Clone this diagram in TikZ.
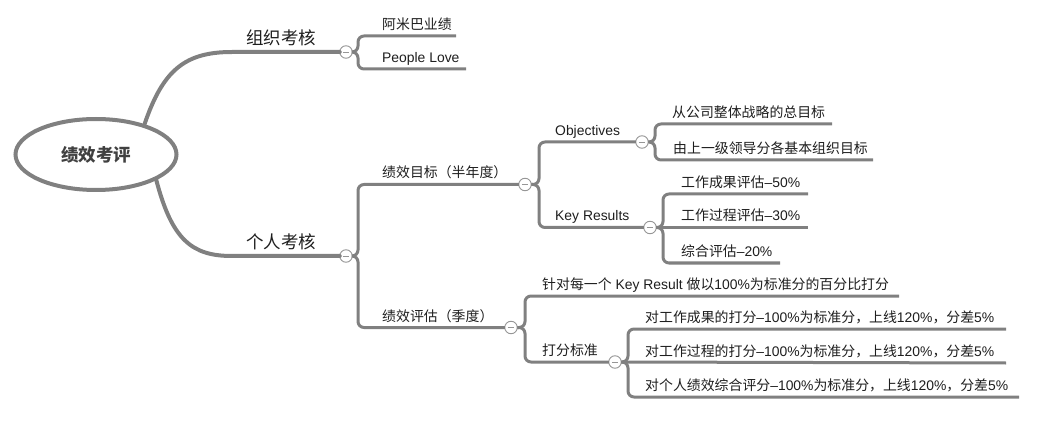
\documentclass[tikz,border=0pt]{standalone}
\usepackage{fontspec}
\setmainfont{Noto Sans CJK SC}
\newfontfamily\lat{Liberation Sans}
\usetikzlibrary{shapes.geometric}
\definecolor{lnc}{RGB}{128,128,128}
\definecolor{tgc}{RGB}{150,150,150}
\definecolor{txc}{RGB}{30,30,30}
\begin{document}
\begin{tikzpicture}[x=1pt,y=-1pt,
  mainln/.style={draw=lnc,line width=4pt,line cap=round},
  subln/.style={draw=lnc,line width=3pt,rounded corners=6pt},
  rootnode/.style={ellipse,draw=lnc,line width=4pt,minimum width=161pt,minimum height=71pt,inner sep=0pt,
    font=\fontsize{17.5}{20}\selectfont\bfseries,text=black!75},
  tog/.style={circle,draw=tgc,fill=white,line width=0.9pt,minimum size=12.5pt,inner sep=0pt,outer sep=0pt,
    path picture={\draw[tgc,line width=0.9pt] ([xshift=3pt]path picture bounding box.west) -- ([xshift=-3pt]path picture bounding box.east);}},
  lbl/.style={anchor=base west,inner sep=0pt,font=\fontsize{13.9}{16}\selectfont,text=txc},
  biglbl/.style={anchor=base west,inner sep=0pt,font=\fontsize{17.5}{20}\selectfont,text=txc}]
\useasboundingbox (0,0) rectangle (1055,422);

% root
\node[rootnode] (root) at (96,154.5) {绩效考评};

% toggles
\node[tog] (c1) at (346,52) {};
\node[tog] (c2) at (346,256) {};
\node[tog] (cg1) at (525,184.5) {};
\node[tog] (cg2) at (511,327.5) {};
\node[tog] (co) at (642,142) {};
\node[tog] (ck) at (650,227.5) {};
\node[tog] (cd) at (615,362) {};

% end points of leaf underlines
\coordinate (e11) at (456,36);
\coordinate (e12) at (466,69);
\coordinate (eo1) at (832,124);
\coordinate (eo2) at (873,160);
\coordinate (ek1) at (808,194);
\coordinate (ek2) at (808,227.5);
\coordinate (ek3) at (780,263);
\coordinate (eg1) at (899,296);
\coordinate (ed1) at (1006,329);
\coordinate (ed2) at (1006,363);
\coordinate (ed3) at (1019,397);

% main branches
\draw[mainln] (root.32) .. controls (163,70) and (185,52) .. (232,52) -- (c1.west);
\draw[mainln] (root.-23) .. controls (172,240) and (192,256) .. (232,256) -- (c2.west);

% sub branches
\draw[subln] (c1.east) -- (358,52) |- (e11);
\draw[subln] (c1.east) -- (358,52) |- (e12);
\draw[subln] (c2.east) -- (358,256) |- (cg1.west);
\draw[subln] (c2.east) -- (358,256) |- (cg2.west);
\draw[subln] (cg1.east) -- (539,184.5) |- (co.west);
\draw[subln] (cg1.east) -- (539,184.5) |- (ck.west);
\draw[subln] (co.east) -- (655,142) |- (eo1);
\draw[subln] (co.east) -- (655,142) |- (eo2);
\draw[subln] (ck.east) -- (663,227.5) |- (ek1);
\draw[subln] (ck.east) -- (ek2);
\draw[subln] (ck.east) -- (663,227.5) |- (ek3);
\draw[subln] (cg2.east) -- (525,327.5) |- (eg1);
\draw[subln] (cg2.east) -- (525,327.5) |- (cd.west);
\draw[subln] (cd.east) -- (628,362) |- (ed1);
\draw[subln] (cd.east) -- (ed2);
\draw[subln] (cd.east) -- (628,362) |- (ed3);

% labels
\node[biglbl] (l1) at (246,44.5) {组织考核};
\node[biglbl] (l2) at (246,248.5) {个人考核};
\node[lbl] (l11) at (382,29.5) {阿米巴业绩};
\node[lbl] (l12) at (382,62.5) {\lat People Love};
\node[lbl] (lg1) at (382,178) {绩效目标（半年度）};
\node[lbl] (lg2) at (382,321) {绩效评估（季度）};
\node[lbl] (lo) at (555,135.5) {\lat Objectives};
\node[lbl] (lk) at (555,221) {\lat Key Results};
\node[lbl] (lo1) at (672,117.5) {从公司整体战略的总目标};
\node[lbl] (lo2) at (673,153.5) {由上一级领导分各基本组织目标};
\node[lbl] (lk1) at (681,187.5) {工作成果评估{\lat –50\%}};
\node[lbl] (lk2) at (681,221) {工作过程评估{\lat –30\%}};
\node[lbl] (lk3) at (681,256.5) {综合评估{\lat –20\%}};
\node[lbl] (lg21) at (542,289.5) {针对每一个{\lat\ Key Result }做以{\lat 100\%}为标准分的百分比打分};
\node[lbl] (ld) at (542,355.5) {打分标准};
\node[lbl] (ld1) at (645,322.5) {对工作成果的打分{\lat –100\%}为标准分，上线{\lat 120\%}，分差{\lat 5\%}};
\node[lbl] (ld2) at (645,356.5) {对工作过程的打分{\lat –100\%}为标准分，上线{\lat 120\%}，分差{\lat 5\%}};
\node[lbl] (ld3) at (645,390.5) {对个人绩效综合评分{\lat –100\%}为标准分，上线{\lat 120\%}，分差{\lat 5\%}};
\end{tikzpicture}
\end{document}
